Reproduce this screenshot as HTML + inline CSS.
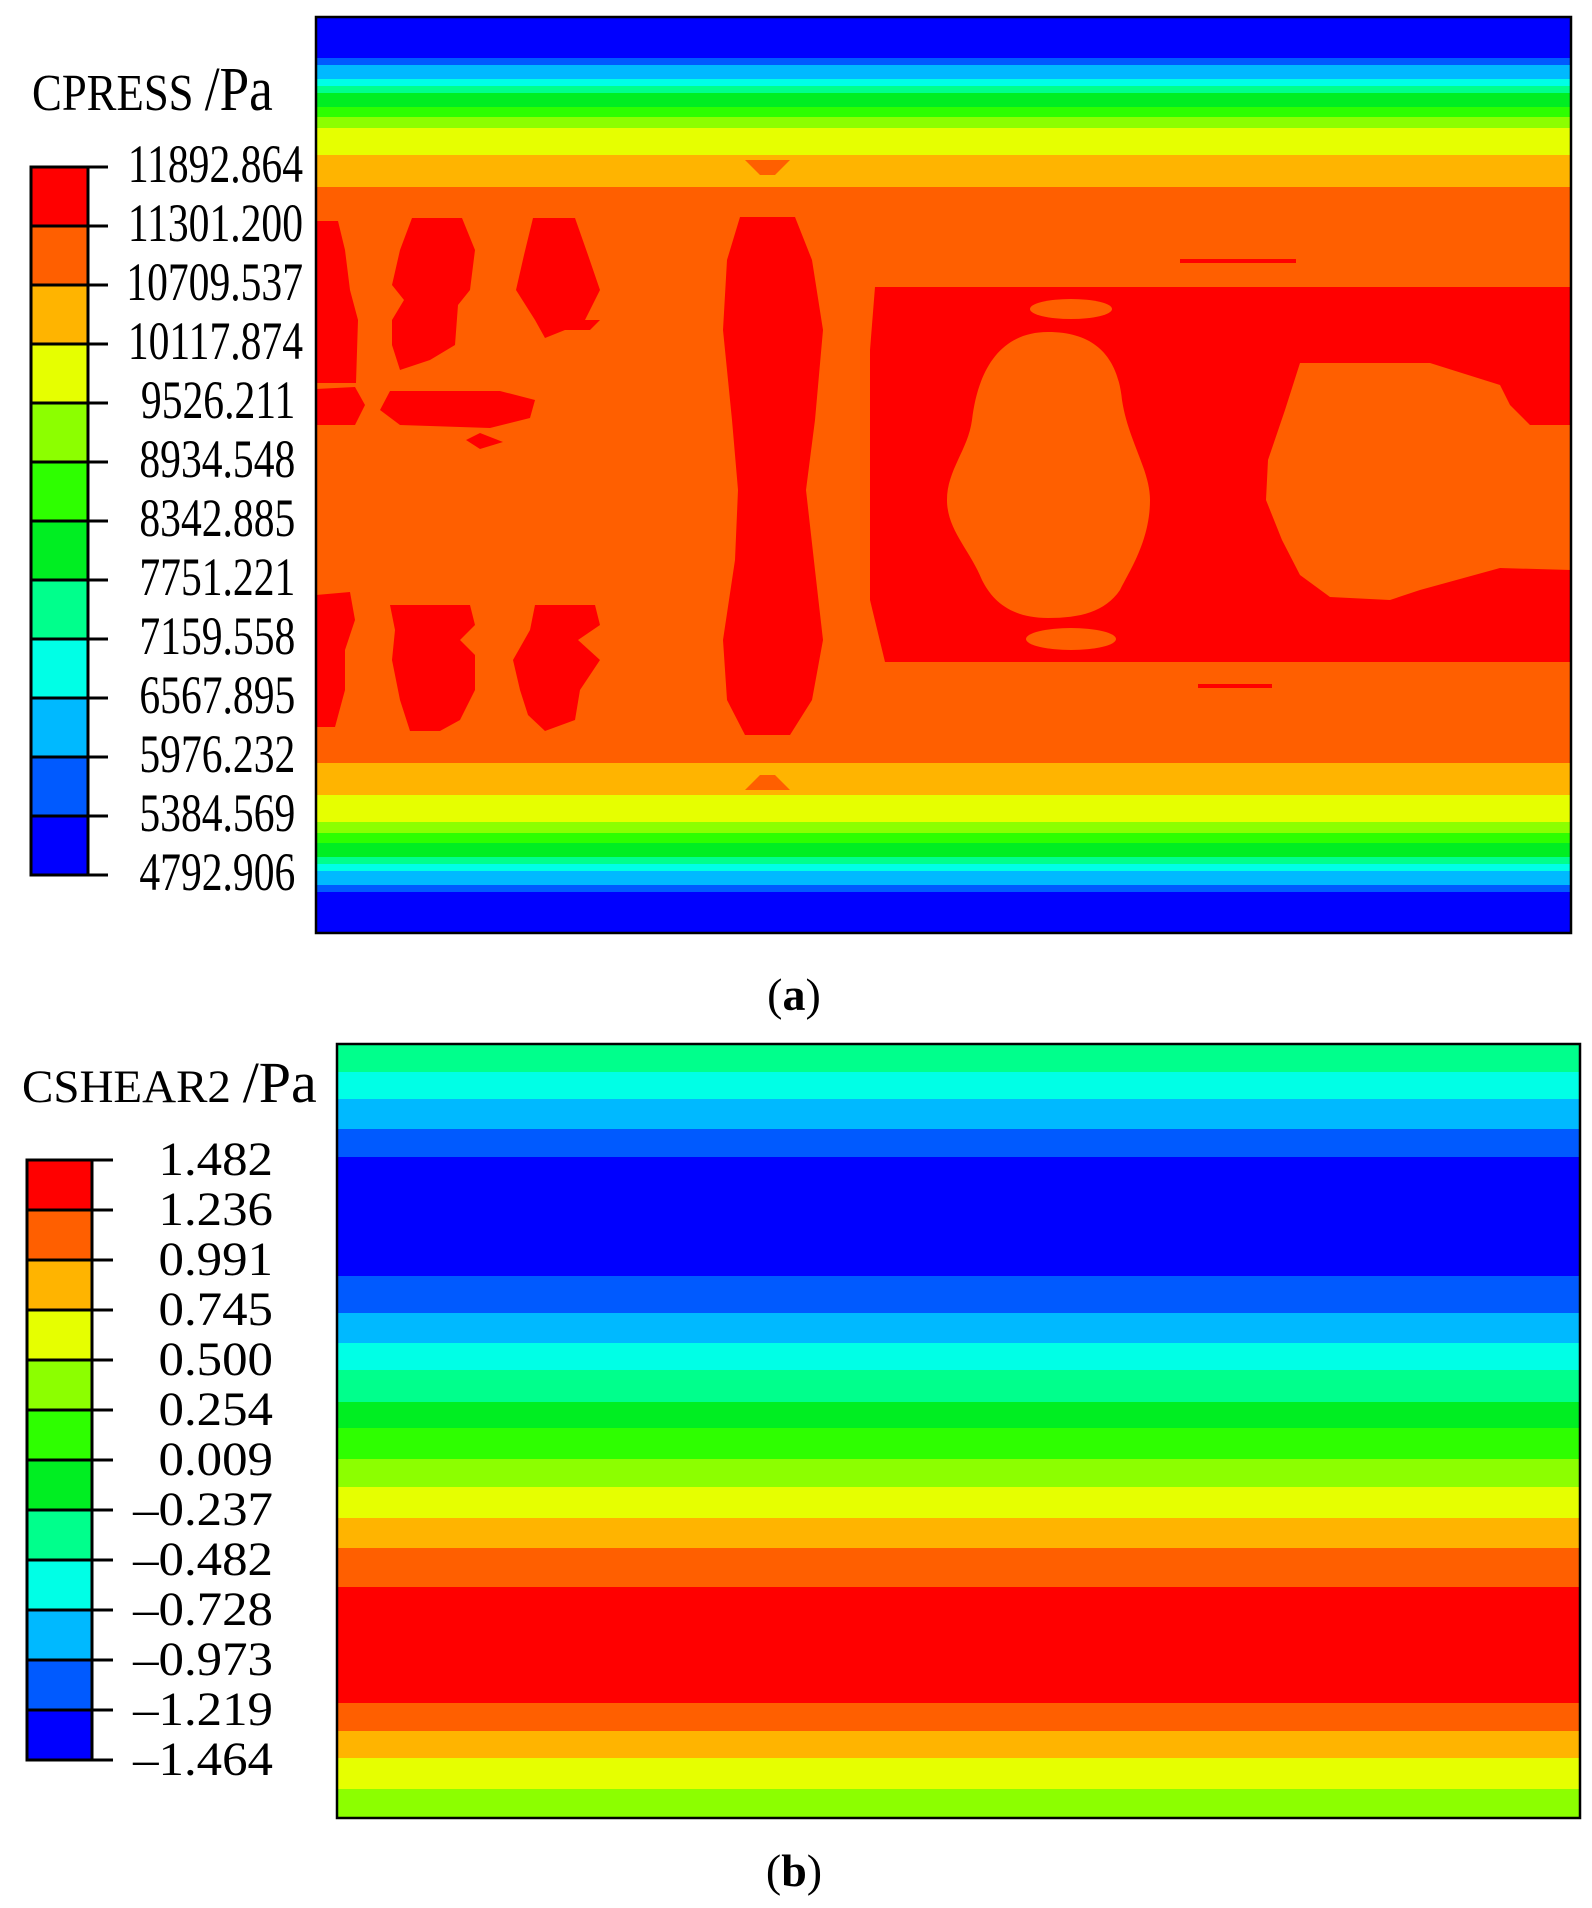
<!DOCTYPE html>
<html><head><meta charset="utf-8"><style>
html,body{margin:0;padding:0;background:#fff;width:1592px;height:1908px;overflow:hidden}
svg{display:block}
text{font-family:"Liberation Serif",serif;fill:#000}
</style></head><body>
<svg width="1592" height="1908" viewBox="0 0 1592 1908" xmlns="http://www.w3.org/2000/svg">
<defs>
<clipPath id="ca"><rect x="316" y="17" width="1255" height="916"/></clipPath>
<clipPath id="cb"><rect x="337" y="1044" width="1243" height="774"/></clipPath>
</defs>
<!-- Panel A -->
<g clip-path="url(#ca)">
<rect x="316" y="17" width="1255" height="916" fill="#ff5f00"/>
<rect x="316" y="17" width="1255" height="41" fill="#0000ff"/>
<rect x="316" y="58" width="1255" height="7" fill="#005aff"/>
<rect x="316" y="65" width="1255" height="14" fill="#00b9ff"/>
<rect x="316" y="79" width="1255" height="7" fill="#00ffe6"/>
<rect x="316" y="86" width="1255" height="7" fill="#00ff8c"/>
<rect x="316" y="93" width="1255" height="14" fill="#00ee22"/>
<rect x="316" y="107" width="1255" height="10" fill="#2eff00"/>
<rect x="316" y="117" width="1255" height="11" fill="#8cff00"/>
<rect x="316" y="128" width="1255" height="27" fill="#e6ff00"/>
<rect x="316" y="155" width="1255" height="32" fill="#ffb400"/>
<rect x="316" y="763" width="1255" height="32" fill="#ffb400"/>
<rect x="316" y="795" width="1255" height="27" fill="#e6ff00"/>
<rect x="316" y="822" width="1255" height="11" fill="#8cff00"/>
<rect x="316" y="833" width="1255" height="10" fill="#2eff00"/>
<rect x="316" y="843" width="1255" height="14" fill="#00ee22"/>
<rect x="316" y="857" width="1255" height="7" fill="#00ff8c"/>
<rect x="316" y="864" width="1255" height="7" fill="#00ffe6"/>
<rect x="316" y="871" width="1255" height="14" fill="#00b9ff"/>
<rect x="316" y="885" width="1255" height="7" fill="#005aff"/>
<rect x="316" y="892" width="1255" height="41" fill="#0000ff"/>
<polygon points="745,160 790,160 775,175 760,175" fill="#ff5f00"/>
<polygon points="760,775 775,775 790,790 745,790" fill="#ff5f00"/>
<g fill="#ff0000">
<path d="M875,287 L1571,287 L1571,662 L885,662 L870,600 L870,350 Z"/>
<path d="M740,217 L795,217 L812,260 L823,330 L815,420 L806,490 L815,570 L823,640 L812,700 L790,735 L745,735 L727,700 L723,640 L735,560 L738,490 L732,420 L723,330 L727,260 Z"/>
<path d="M316,221 L338,221 L345,250 L350,290 L358,320 L356,383 L316,383 Z"/>
<path d="M412,218 L462,218 L475,250 L470,290 L458,305 L455,345 L430,360 L400,370 L392,345 L392,320 L404,300 L392,285 L400,250 Z"/>
<path d="M533,218 L575,218 L588,255 L600,290 L585,320 L600,320 L590,330 L565,330 L545,338 L535,320 L516,290 L524,255 Z"/>
<path d="M316,389 L355,387 L365,405 L355,425 L316,425 Z"/>
<path d="M390,391 L500,391 L535,400 L530,418 L490,428 L400,425 L380,410 Z"/>
<path d="M466,440 L480,433 L503,442 L480,449 Z"/>
<path d="M316,595 L350,592 L355,620 L345,650 L345,690 L335,727 L316,727 Z"/>
<path d="M390,605 L470,605 L475,625 L460,640 L475,655 L475,690 L460,720 L440,731 L410,731 L400,700 L392,660 L395,630 Z"/>
<path d="M535,605 L595,605 L600,625 L578,640 L600,660 L580,690 L575,720 L545,731 L528,715 L520,690 L513,660 L530,630 Z"/>
</g>
<g fill="#ff5f00">
<path d="M1048,332 C1098,332 1118,360 1122,400 C1128,440 1150,470 1150,500 C1150,540 1130,570 1120,590 C1105,612 1080,618 1048,618 C1010,618 992,600 982,580 C970,550 947,530 947,500 C947,470 968,450 972,420 C978,370 1000,332 1048,332 Z"/>
<ellipse cx="1071" cy="309" rx="41" ry="10"/>
<ellipse cx="1071" cy="639" rx="45" ry="11"/>
<path d="M1300,363 L1430,363 L1500,385 L1510,405 L1530,425 L1571,425 L1571,570 L1500,568 L1420,590 L1390,600 L1330,597 L1300,575 L1282,540 L1266,500 L1268,460 L1285,410 Z"/>
</g>
<g fill="#ff0000">
<rect x="1180" y="259" width="116" height="4"/>
<rect x="1346" y="637" width="128" height="4"/>
<rect x="1198" y="684" width="74" height="4"/>
</g>
</g>
<rect x="316" y="17" width="1255" height="916" fill="none" stroke="#000" stroke-width="2.5"/>
<g>
<rect x="31" y="167" width="57" height="59" fill="#ff0000"/>
<rect x="31" y="226" width="57" height="59" fill="#ff5f00"/>
<rect x="31" y="285" width="57" height="59" fill="#ffb400"/>
<rect x="31" y="344" width="57" height="59" fill="#e6ff00"/>
<rect x="31" y="403" width="57" height="59" fill="#8cff00"/>
<rect x="31" y="462" width="57" height="59" fill="#2eff00"/>
<rect x="31" y="521" width="57" height="59" fill="#00ee22"/>
<rect x="31" y="580" width="57" height="59" fill="#00ff8c"/>
<rect x="31" y="639" width="57" height="59" fill="#00ffe6"/>
<rect x="31" y="698" width="57" height="59" fill="#00b9ff"/>
<rect x="31" y="757" width="57" height="59" fill="#005aff"/>
<rect x="31" y="816" width="57" height="59" fill="#0000ff"/>
</g>
<g stroke="#000" stroke-width="3">
<rect x="31" y="167" width="57" height="708" fill="none"/>
<line x1="31" y1="167" x2="108" y2="167"/><line x1="31" y1="226" x2="108" y2="226"/>
<line x1="31" y1="285" x2="108" y2="285"/><line x1="31" y1="344" x2="108" y2="344"/>
<line x1="31" y1="403" x2="108" y2="403"/><line x1="31" y1="462" x2="108" y2="462"/>
<line x1="31" y1="521" x2="108" y2="521"/><line x1="31" y1="580" x2="108" y2="580"/>
<line x1="31" y1="639" x2="108" y2="639"/><line x1="31" y1="698" x2="108" y2="698"/>
<line x1="31" y1="757" x2="108" y2="757"/><line x1="31" y1="816" x2="108" y2="816"/>
<line x1="31" y1="875" x2="108" y2="875"/>
</g>
<text x="32" y="110" font-size="52" transform="translate(32 0) scale(0.86 1) translate(-32 0)">CPRESS <tspan font-size="62">/Pa</tspan></text>
<g font-size="54" text-anchor="end" transform="translate(303 0) scale(0.77 1) translate(-303 0)">
<text x="303" y="182">11892.864</text>
<text x="303" y="241">11301.200</text>
<text x="303" y="300">10709.537</text>
<text x="303" y="359">10117.874</text>
<text x="293" y="418">9526.211</text>
<text x="293" y="477">8934.548</text>
<text x="293" y="536">8342.885</text>
<text x="293" y="595">7751.221</text>
<text x="293" y="654">7159.558</text>
<text x="293" y="713">6567.895</text>
<text x="293" y="772">5976.232</text>
<text x="293" y="831">5384.569</text>
<text x="293" y="890">4792.906</text>
</g>
<text x="794" y="1010" font-size="46" text-anchor="middle">(<tspan font-weight="bold">a</tspan>)</text>
<g clip-path="url(#cb)">
<rect x="337" y="1044" width="1243" height="28" fill="#00ff8c"/>
<rect x="337" y="1072" width="1243" height="27" fill="#00ffe6"/>
<rect x="337" y="1099" width="1243" height="30" fill="#00b9ff"/>
<rect x="337" y="1129" width="1243" height="28" fill="#005aff"/>
<rect x="337" y="1157" width="1243" height="119" fill="#0000ff"/>
<rect x="337" y="1276" width="1243" height="37" fill="#005aff"/>
<rect x="337" y="1313" width="1243" height="30" fill="#00b9ff"/>
<rect x="337" y="1343" width="1243" height="27" fill="#00ffe6"/>
<rect x="337" y="1370" width="1243" height="32" fill="#00ff8c"/>
<rect x="337" y="1402" width="1243" height="26" fill="#00ee22"/>
<rect x="337" y="1428" width="1243" height="31" fill="#2eff00"/>
<rect x="337" y="1459" width="1243" height="28" fill="#8cff00"/>
<rect x="337" y="1487" width="1243" height="31" fill="#e6ff00"/>
<rect x="337" y="1518" width="1243" height="30" fill="#ffb400"/>
<rect x="337" y="1548" width="1243" height="39" fill="#ff5f00"/>
<rect x="337" y="1587" width="1243" height="116" fill="#ff0000"/>
<rect x="337" y="1703" width="1243" height="28" fill="#ff5f00"/>
<rect x="337" y="1731" width="1243" height="27" fill="#ffb400"/>
<rect x="337" y="1758" width="1243" height="31" fill="#e6ff00"/>
<rect x="337" y="1789" width="1243" height="29" fill="#8cff00"/>
</g>
<rect x="337" y="1044" width="1243" height="774" fill="none" stroke="#000" stroke-width="2.5"/>
<g>
<rect x="27" y="1160" width="65" height="50" fill="#ff0000"/>
<rect x="27" y="1210" width="65" height="50" fill="#ff5f00"/>
<rect x="27" y="1260" width="65" height="50" fill="#ffb400"/>
<rect x="27" y="1310" width="65" height="50" fill="#e6ff00"/>
<rect x="27" y="1360" width="65" height="50" fill="#8cff00"/>
<rect x="27" y="1410" width="65" height="50" fill="#2eff00"/>
<rect x="27" y="1460" width="65" height="50" fill="#00ee22"/>
<rect x="27" y="1510" width="65" height="50" fill="#00ff8c"/>
<rect x="27" y="1560" width="65" height="50" fill="#00ffe6"/>
<rect x="27" y="1610" width="65" height="50" fill="#00b9ff"/>
<rect x="27" y="1660" width="65" height="50" fill="#005aff"/>
<rect x="27" y="1710" width="65" height="50" fill="#0000ff"/>
</g>
<g stroke="#000" stroke-width="3">
<rect x="27" y="1160" width="65" height="600" fill="none"/>
<line x1="27" y1="1160" x2="113" y2="1160"/><line x1="27" y1="1210" x2="113" y2="1210"/>
<line x1="27" y1="1260" x2="113" y2="1260"/><line x1="27" y1="1310" x2="113" y2="1310"/>
<line x1="27" y1="1360" x2="113" y2="1360"/><line x1="27" y1="1410" x2="113" y2="1410"/>
<line x1="27" y1="1460" x2="113" y2="1460"/><line x1="27" y1="1510" x2="113" y2="1510"/>
<line x1="27" y1="1560" x2="113" y2="1560"/><line x1="27" y1="1610" x2="113" y2="1610"/>
<line x1="27" y1="1660" x2="113" y2="1660"/><line x1="27" y1="1710" x2="113" y2="1710"/>
<line x1="27" y1="1760" x2="113" y2="1760"/>
</g>
<text x="22" y="1102" font-size="47">CSHEAR2 <tspan font-size="58">/Pa</tspan></text>
<g font-size="48" text-anchor="end" transform="translate(273 0) scale(1.06 1) translate(-273 0)">
<text x="273" y="1175">1.482</text>
<text x="273" y="1225">1.236</text>
<text x="273" y="1275">0.991</text>
<text x="273" y="1325">0.745</text>
<text x="273" y="1375">0.500</text>
<text x="273" y="1425">0.254</text>
<text x="273" y="1475">0.009</text>
<text x="273" y="1525">–0.237</text>
<text x="273" y="1575">–0.482</text>
<text x="273" y="1625">–0.728</text>
<text x="273" y="1675">–0.973</text>
<text x="273" y="1725">–1.219</text>
<text x="273" y="1775">–1.464</text>
</g>
<text x="794" y="1886" font-size="46" text-anchor="middle">(<tspan font-weight="bold">b</tspan>)</text>
</svg>
</body></html>
